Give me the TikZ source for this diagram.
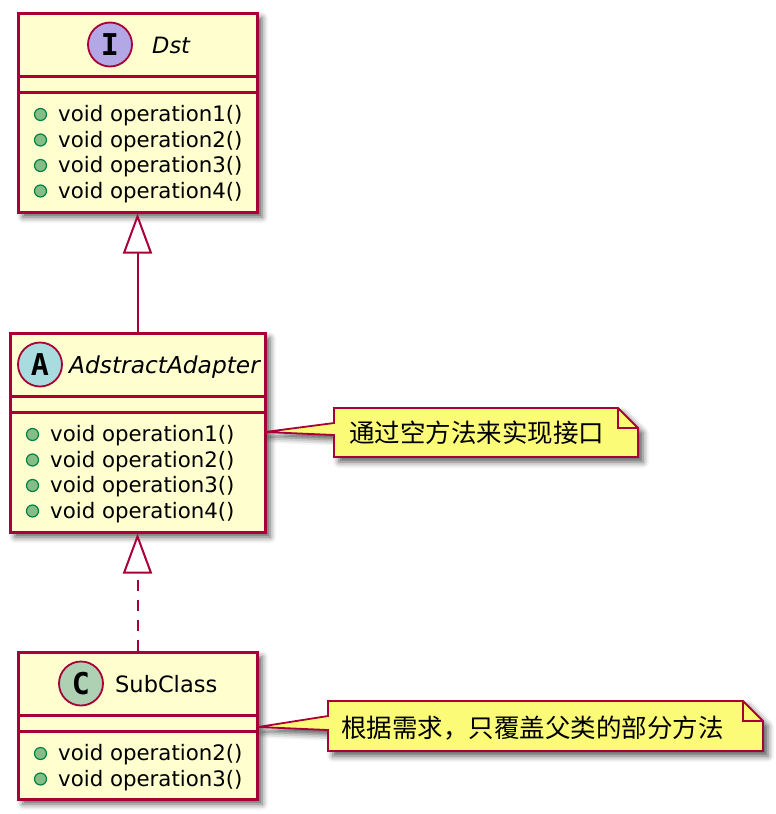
\documentclass[tikz,border=0pt]{standalone}
\usepackage{fontspec}
\setmainfont{DejaVu Sans}
\setmonofont{DejaVu Sans Mono}
\newfontfamily\cjk{Noto Sans CJK SC}
\usetikzlibrary{arrows.meta,shadows.blur}
\definecolor{umlred}{HTML}{A80036}
\definecolor{classbg}{HTML}{FEFECE}
\definecolor{notebg}{HTML}{FBFB77}
\definecolor{ifacebg}{HTML}{B4A7E5}
\definecolor{abstractbg}{HTML}{A9DCDF}
\definecolor{classicon}{HTML}{ADD1B2}
\definecolor{pubfill}{HTML}{84BE84}
\definecolor{publine}{HTML}{038048}
\tikzset{
  umlshadow/.style={blur shadow={shadow xshift=5pt,shadow yshift=-5pt,shadow blur radius=6pt,shadow opacity=65}},
  classbox/.style={draw=umlred,fill=classbg,line width=3pt,inner sep=0pt,umlshadow},
  sep/.style={draw=umlred,line width=3pt},
  icon/.style={circle,draw=umlred,line width=1.8pt,minimum size=44pt,inner sep=0pt,font=\fontsize{30}{30}\selectfont\ttfamily\bfseries},
  title/.style={anchor=base west,inner sep=0pt,font=\fontsize{22.5}{26}\selectfont\itshape},
  member/.style={anchor=base west,inner sep=0pt,font=\fontsize{21.3}{25}\selectfont},
  pub/.style={circle,draw=publine,fill=pubfill,line width=1.2pt,minimum size=12pt,inner sep=0pt},
  notebox/.style={draw=umlred,fill=notebg,line width=1.8pt,line join=miter,umlshadow},
  notetext/.style={anchor=west,inner sep=0pt,font=\fontsize{25.5}{28}\selectfont\cjk},
  extends/.style={color=umlred,line width=2pt,-{Triangle[open,length=40pt,width=29pt,fill=white]}},
}
\begin{document}
\begin{tikzpicture}[x=1pt,y=-1pt]
      \useasboundingbox (0,0) rectangle (776,814);

      % class boxes
      \node[classbox,minimum width=239pt,minimum height=199pt] (Dst) at (137.5,112.5) {};
      \node[classbox,minimum width=255pt,minimum height=199pt] (AA) at (137.5,432.5) {};
      \node[classbox,minimum width=239pt,minimum height=147pt] (Sub) at (137.5,725.5) {};

      \draw[sep] (18,76) -- (257,76);
      \draw[sep] (18,92.5) -- (257,92.5);
      \draw[sep] (10,396) -- (265,396);
      \draw[sep] (10,412.5) -- (265,412.5);
      \draw[sep] (18,715) -- (257,715);
      \draw[sep] (18,731.5) -- (257,731.5);

      % headers
      \node[icon,fill=ifacebg] (IDst) at (110,44.5) {I};
      \node[title] (TDst) at (152,53) {Dst};
      \node[icon,fill=abstractbg] (IAA) at (40,364.5) {A};
      \node[title,font=\fontsize{23.3}{26}\selectfont\itshape] (TAA) at (69,373) {AdstractAdapter};
      \node[icon,fill=classicon] (ISub) at (81,683.5) {C};
      \node[title,font=\fontsize{22.5}{26}\selectfont] (TSub) at (115,692) {SubClass};

      % members
      \node[pub] (pD1) at (40.5,114.5) {};
      \node[member] (mD1) at (58,121.8) {void operation1()};
      \node[pub] (pD2) at (40.5,140) {};
      \node[member] (mD2) at (58,147.3) {void operation2()};
      \node[pub] (pD3) at (40.5,165.5) {};
      \node[member] (mD3) at (58,172.8) {void operation3()};
      \node[pub] (pD4) at (40.5,191) {};
      \node[member] (mD4) at (58,198.3) {void operation4()};

      \node[pub] (pA1) at (32.5,434.5) {};
      \node[member] (mA1) at (50,441.8) {void operation1()};
      \node[pub] (pA2) at (32.5,460) {};
      \node[member] (mA2) at (50,467.3) {void operation2()};
      \node[pub] (pA3) at (32.5,485.5) {};
      \node[member] (mA3) at (50,492.8) {void operation3()};
      \node[pub] (pA4) at (32.5,511) {};
      \node[member] (mA4) at (50,518.3) {void operation4()};

      \node[pub] (pS2) at (40.5,753.5) {};
      \node[member] (mS2) at (58,760.8) {void operation2()};
      \node[pub] (pS3) at (40.5,779) {};
      \node[member] (mS3) at (58,786.3) {void operation3()};

      % notes
      \coordinate (N1tip) at (265,432);
      \draw[notebox] (334,408) -- (618,408) -- (638,428) -- (638,457) -- (334,457) -- (334,435) -- (N1tip) -- (334,423) -- cycle;
      \draw[umlred,line width=1.8pt] (618,408) -- (618,428) -- (638,428);
      \node[notetext] (N1) at (349,433) {通过空方法来实现接口};

      \coordinate (N2tip) at (258,727);
      \draw[notebox] (328,701) -- (743,701) -- (763,721) -- (763,751) -- (328,751) -- (328,730) -- (N2tip) -- (328,716) -- cycle;
      \draw[umlred,line width=1.8pt] (743,701) -- (743,721) -- (763,721);
      \node[notetext] (N2) at (341,728) {根据需求，只覆盖父类的部分方法};

      % relations
      \path [extends](AA.north) edge node {} (Dst.south);
      \path [extends,dash pattern=on 11pt off 9pt](Sub.north) edge node {} (AA.south);
  \end{tikzpicture}
\end{document}
